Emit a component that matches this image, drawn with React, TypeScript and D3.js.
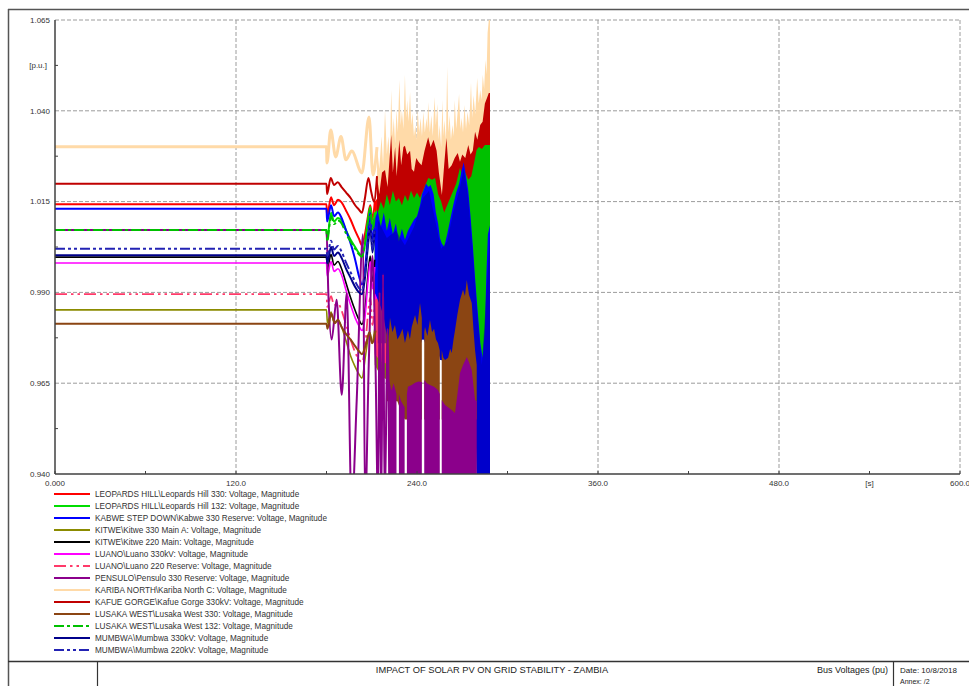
import React from 'react';
import * as d3 from 'd3';

// ---- Axis definitions ----
const X_TICKS = [0, 120, 240, 360, 480, 600];
const X_TICK_LABELS = ['0.000', '120.0', '240.0', '360.0', '480.0', '600.0'];
const X_MINOR = [60, 180, 300, 420, 540];
const Y_TICKS = [0.94, 0.965, 0.99, 1.015, 1.04, 1.065];
const Y_TICK_LABELS = ['0.940', '0.965', '0.990', '1.015', '1.040', '1.065'];
const Y_MINOR = [0.9525, 0.9775, 1.0025, 1.0275, 1.0525];
const X_UNIT = '[s]';
const X_UNIT_AT = 540;
const Y_UNIT = '[p.u.]';
const Y_UNIT_AT = 1.0525;

const TITLE = 'IMPACT OF SOLAR PV ON GRID STABILITY - ZAMBIA';
const SUBTITLE = 'Bus Voltages (pu)';
const DATE_TEXT = 'Date: 10/8/2018';
const ANNEX_TEXT = 'Annex:   /2';

type Pt = [number, number];
type BandPt = [number, number, number] | null; // [time, low, high]

// ---- Bus voltage traces [time s, voltage p.u.] (steady state + first swings) ----
const leopardsHill330: Pt[] = [[0, 1.0143], [180, 1.0143], [180.4, 1.011], [183, 1.0162], [185, 1.014], [187.6, 1.0155], [190, 1.0148], [193, 1.0125], [196, 1.01], [199, 1.007], [201.5, 1.0048], [203.5, 1.0030], [205.5, 1.006], [207.5, 1.011], [209, 1.014], [210.5, 1.01], [212, 1.015]];
const leopardsHill132: Pt[] = [[0, 1.0072], [180, 1.0072], [180.4, 1.0045], [183, 1.0119], [185, 1.0095], [187.6, 1.0105], [190, 1.0098], [193, 1.007], [196, 1.0045], [199, 1.0025], [201.5, 1.0008], [203.5, 1.0], [205.5, 1.003], [207.5, 1.01], [209, 1.0135], [210.5, 1.008], [212, 1.012]];
const kabwe330: Pt[] = [[0, 1.013], [180, 1.013], [180.4, 1.0095], [183, 1.014], [185, 1.011], [187.6, 1.012], [190, 1.0105], [193, 1.007], [196, 1.0035], [199, 0.999], [201.5, 0.9945], [203.5, 0.9922], [205.5, 0.996], [207.5, 1.006], [209, 1.012], [210.5, 1.004], [212, 1.01]];
const kitwe330: Pt[] = [[0, 0.9852], [180, 0.9852], [180.6, 0.9816], [183, 0.9846], [185, 0.9818], [187.6, 0.9822], [190, 0.9805], [193, 0.9766], [196, 0.9725], [199, 0.9695], [201.5, 0.9675], [203.5, 0.9664], [206, 0.973], [208.5, 0.979], [210, 0.976], [212, 0.98]];
const kitwe220: Pt[] = [[0, 0.9997], [180, 0.9997], [180.5, 0.9965], [183, 1.0005], [185, 0.9975], [187.6, 0.9985], [190, 0.9965], [193, 0.9925], [196, 0.9885], [199, 0.985], [201.5, 0.9825], [203.5, 0.9812], [205.5, 0.985], [207.5, 0.995], [209, 1.0], [210.5, 0.993], [212, 0.999]];
const luano330: Pt[] = [[0, 0.9981], [180, 0.9981], [180.5, 0.9945], [183, 0.9985], [185, 0.9958], [187.6, 0.9965], [190, 0.9948], [193, 0.9905], [196, 0.9865], [199, 0.983], [201.5, 0.9808], [203.5, 0.9795], [205.5, 0.983], [207.5, 0.993], [209, 0.9985], [210.5, 0.991], [212, 0.997]];
const luano220: Pt[] = [[0, 0.9895], [180, 0.9895], [180.5, 0.986], [183, 0.989], [185, 0.9865], [187.6, 0.987], [190, 0.985], [193, 0.981], [196, 0.977], [199, 0.9735], [201.5, 0.9715], [203.5, 0.9708], [205.5, 0.9745], [207.5, 0.984], [209, 0.9885], [210.5, 0.981], [212, 0.987]];
const pensulo330: Pt[] = [[0, 1.0072], [180, 1.0072], [181.2, 0.99], [183.4, 0.977], [186.7, 0.988], [190.1, 0.9618], [193.4, 0.9898], [196.7, 0.93], [200, 0.96], [204.2, 1.006], [205.6, 0.93], [208, 0.97], [210.5, 1.0], [212.5, 0.97], [214.2, 0.93], [215.2, 0.99], [216.3, 0.93], [217.5, 0.995], [218.6, 0.93], [220.5, 0.98], [221.7, 0.93]];
const karibaNorth: Pt[] = [[0, 1.0301], [180, 1.0301], [180.3, 1.0256], [182.8, 1.0347], [186.1, 1.0273], [189.6, 1.0329], [192.9, 1.0265], [196.7, 1.0289], [203.5, 1.0229], [208.2, 1.0383], [210.8, 1.0223], [213.5, 1.03]];
const kafueGorge: Pt[] = [[0, 1.0199], [180, 1.0199], [180.4, 1.0171], [182.8, 1.0215], [185, 1.0196], [187.4, 1.0203], [190, 1.019], [193, 1.0175], [196, 1.016], [199, 1.014], [201.5, 1.0128], [203.5, 1.0119], [205.5, 1.016], [207.8, 1.0215], [209.5, 1.018], [211.5, 1.015], [213.5, 1.022]];
const lusakaWest330: Pt[] = [[0, 0.9814], [180, 0.9814], [180.6, 0.98], [183.2, 0.9841], [185.5, 0.9815], [187.6, 0.9825], [190, 0.9805], [193, 0.9785], [196, 0.977], [199, 0.9752], [201.5, 0.9738], [203.5, 0.973], [206, 0.9755], [208.5, 0.979], [210.5, 0.976], [212.5, 0.9795]];
const lusakaWest132: Pt[] = [[0, 1.0072], [180, 1.0072], [180.4, 1.004], [183, 1.011], [185, 1.0088], [187.6, 1.0098], [190, 1.009], [193, 1.0062], [196, 1.004], [199, 1.002], [201.5, 1.0005], [203.5, 0.9998], [205.5, 1.0035], [207.5, 1.0095], [209, 1.0125], [210.5, 1.007], [212, 1.011]];
const mumbwa330: Pt[] = [[0, 1.0002], [180, 1.0002], [180.5, 0.998], [183, 1.0025], [185, 1.0], [187.6, 1.001], [190, 0.9995], [193, 0.9965], [196, 0.994], [199, 0.9915], [201.5, 0.99], [203.5, 0.9895], [205.5, 0.994], [207.5, 1.003], [209, 1.008], [210.5, 1.001], [212, 1.007]];
const mumbwa220: Pt[] = [[0, 1.002], [180, 1.002], [180.5, 1.0], [183, 1.0042], [185, 1.0018], [187.6, 1.0028], [190, 1.0012], [193, 0.9982], [196, 0.9955], [199, 0.993], [201.5, 0.9912], [203.5, 0.9905], [205.5, 0.995], [207.5, 1.004], [209, 1.009], [210.5, 1.002], [212, 1.008]];

// ---- Fast oscillation envelopes [time s, min p.u., max p.u.] ----
const leopardsHill330Band: BandPt[] = [[212, 1.005, 1.015], [216, 1.004, 1.017], [220, 1.003, 1.016], [226, 1.002, 1.018], [232, 1.002, 1.017], [241, 1.002, 1.018]];
const leopardsHill132Band: BandPt[] = [[212, 0.998, 1.012], [216, 0.996, 1.014], [222, 0.994, 1.015], [230, 0.992, 1.016], [241, 0.992, 1.017]];
const kitwe330Band: BandPt[] = [[212, 0.970, 0.980], [216, 0.967, 0.982], [220, 0.966, 0.983], [226, 0.968, 0.982], [232, 0.968, 0.980], [241, 0.970, 0.980]];
const kitwe220Band: BandPt[] = [[212, 0.983, 0.999], [216, 0.982, 1.0], [222, 0.980, 1.0], [232, 0.980, 0.998], [241, 0.980, 0.998]];
const luano330Band: BandPt[] = [[212, 0.980, 0.997], [216, 0.978, 0.998], [222, 0.977, 0.998], [232, 0.977, 0.996], [241, 0.978, 0.996]];
const luano220Band: BandPt[] = [[212, 0.973, 0.988], [216, 0.971, 0.989], [222, 0.970, 0.990], [232, 0.970, 0.988], [241, 0.972, 0.988]];
const mumbwa220Band: BandPt[] = [[212, 0.990, 1.008], [216, 0.988, 1.010], [222, 0.985, 1.010], [232, 0.982, 1.008], [241, 0.982, 1.010]];

const karibaNorthBand: BandPt[] = [
  [213.5, 1.014, 1.03], [215, 1.014, 1.024], [216.5, 1.014, 1.033], [217.5, 1.014, 1.025], [218.8, 1.014, 1.0402], [220, 1.014, 1.028],
  [221, 1.014, 1.033], [222, 1.014, 1.027], [222.9, 1.014, 1.0457], [223.8, 1.014, 1.033], [224.6, 1.014, 1.038], [225.5, 1.014, 1.031],
  [226.4, 1.014, 1.0402], [227.3, 1.014, 1.034], [228.3, 1.014, 1.0485], [229.2, 1.014, 1.036], [230, 1.014, 1.0402], [231, 1.014, 1.035],
  [232, 1.014, 1.0499], [232.8, 1.014, 1.038], [233.5, 1.014, 1.043], [234.4, 1.014, 1.037], [235.4, 1.014, 1.0452], [236.2, 1.014, 1.036],
  [237, 1.014, 1.0394], [238, 1.014, 1.033], [238.9, 1.014, 1.0361], [239.7, 1.014, 1.032], [240.5, 1.014, 1.0402], [241.4, 1.014, 1.034],
  [242.4, 1.014, 1.038], [243.3, 1.014, 1.033], [244.2, 1.014, 1.0397], [245.2, 1.014, 1.034], [246.3, 1.014, 1.038], [246.9, 1.014, 1.035],
  [247.4, 1.014, 1.0424], [248.5, 1.014, 1.034], [249.5, 1.014, 1.0388], [250.5, 1.014, 1.033], [251.6, 1.014, 1.0438], [252.5, 1.014, 1.036],
  [253.5, 1.014, 1.0419], [254.3, 1.014, 1.032], [255, 1.014, 1.0361], [256, 1.014, 1.03], [256.9, 1.014, 1.043], [257.5, 1.014, 1.033],
  [258.1, 1.014, 1.0375], [259.2, 1.014, 1.032], [260, 1.014, 1.0521], [260.8, 1.014, 1.034], [261.6, 1.014, 1.0388], [262.5, 1.014, 1.032],
  [263.5, 1.014, 1.0361], [264.3, 1.014, 1.033], [265, 1.014, 1.043], [266, 1.014, 1.035], [267, 1.014, 1.04], [267.9, 1.014, 1.0446],
  [268.8, 1.014, 1.035], [269.6, 1.014, 1.038], [270.5, 1.014, 1.034], [271.5, 1.014, 1.0416], [272.5, 1.014, 1.035], [273.5, 1.014, 1.0397],
  [274.6, 1.014, 1.036], [275.8, 1.014, 1.0477], [276.6, 1.014, 1.038], [277.5, 1.014, 1.0443], [278.6, 1.014, 1.039], [279.9, 1.014, 1.049],
  [280.9, 1.014, 1.042], [281.9, 1.014, 1.0457], [282.8, 1.014, 1.043], [283.6, 1.014, 1.0499], [284.5, 1.014, 1.046], [285.4, 1.014, 1.054],
  [286.1, 1.014, 1.05], [286.8, 1.014, 1.0614], [287.6, 1.014, 1.065], [288.4, 1.014, 1.065],
];

const kafueGorgeBand: BandPt[] = [
  [213.5, 1.004, 1.022], [215, 1.004, 1.017], [216.8, 1.004, 1.023], [218.8, 1.004, 1.0237], [220.5, 1.004, 1.019], [222.9, 1.004, 1.0334],
  [224, 1.004, 1.023], [225.5, 1.004, 1.03], [226.5, 1.004, 1.022], [228.3, 1.004, 1.032], [229.5, 1.004, 1.025], [231, 1.004, 1.03],
  [232, 1.004, 1.0304], [233.5, 1.004, 1.028], [235.4, 1.004, 1.029], [236.5, 1.004, 1.024], [238, 1.004, 1.0232], [239.5, 1.004, 1.027],
  [241, 1.004, 1.026], [243, 1.004, 1.025], [245, 1.004, 1.029], [247.4, 1.004, 1.0327], [249, 1.004, 1.03], [251, 1.004, 1.032],
  [253, 1.004, 1.029], [254.5, 1.004, 1.023], [256.5, 1.004, 1.0168], [258, 1.004, 1.025], [259.5, 1.004, 1.0325], [261, 1.004, 1.024],
  [263, 1.004, 1.025], [265, 1.004, 1.027], [267, 1.004, 1.0284], [268.5, 1.004, 1.026], [270, 1.004, 1.028], [272, 1.004, 1.027],
  [274, 1.004, 1.0306], [275.5, 1.004, 1.028], [277, 1.004, 1.029], [278.5, 1.004, 1.0342], [280, 1.004, 1.032], [281.9, 1.004, 1.0361],
  [283.5, 1.004, 1.037], [285, 1.004, 1.042], [286.4, 1.004, 1.0435], [287.6, 1.004, 1.0449], [288.4, 1.004, 1.0449],
];

const lusakaWest132Band: BandPt[] = [
  [212, 0.99, 1.011], [214, 0.99, 1.012], [216, 0.99, 1.015], [218, 0.99, 1.013], [220, 0.99, 1.017], [222, 0.99, 1.014],
  [224, 0.99, 1.018], [226, 0.99, 1.015], [228, 0.99, 1.016], [230, 0.99, 1.014], [232, 0.99, 1.0168], [234, 0.99, 1.015],
  [236, 0.99, 1.018], [238, 0.99, 1.016], [240, 0.99, 1.0175], [242, 0.99, 1.016], [245, 0.99, 1.019], [247.5, 0.99, 1.0215],
  [250, 0.99, 1.021], [252, 0.99, 1.0215], [254, 0.99, 1.017], [256, 0.99, 1.015], [258, 0.99, 1.012], [260, 0.99, 1.014],
  [262, 0.99, 1.016], [264, 0.99, 1.018], [266, 0.99, 1.02], [268.5, 0.99, 1.0243], [270, 0.99, 1.022], [272, 0.99, 1.023],
  [274, 0.99, 1.021], [276, 0.99, 1.022], [278, 0.985, 1.026], [279.5, 0.98, 1.0292], [281, 0.975, 1.03], [283, 0.97, 1.0295],
  [285, 0.972, 1.0306], [287, 0.98, 1.0306], [288.4, 0.99, 1.0306],
];

const kabwe330Band: BandPt[] = [
  [212, 0.99, 1.01], [214, 0.988, 1.0125], [216, 0.986, 1.008], [218, 0.983, 1.012], [220, 0.978, 1.007], [222, 0.975, 1.0105],
  [224, 0.975, 1.006], [226, 0.975, 1.009], [228, 0.975, 1.004], [230, 0.975, 1.0075], [232, 0.975, 1.0045], [234, 0.975, 1.007],
  [236, 0.975, 1.0085], [238, 0.975, 1.01], [240, 0.975, 1.011], [242, 0.975, 1.014], [243.3, 0.977, 1.017], [244.7, 0.977, 1.0185],
  [246, 0.975, 1.02], [247.5, 0.975, 1.019], [249, 0.975, 1.0196], [251, 0.975, 1.017], [252.5, 0.975, 1.012], [254, 0.974, 1.009],
  [255.2, 0.9714, 1.005], [256.4, 0.9714, 1.0035], [258, 0.97, 1.0025], [260, 0.97, 1.006], [262, 0.97, 1.01], [264, 0.97, 1.014],
  [266, 0.972, 1.0175], [268, 0.975, 1.02], [269.5, 0.975, 1.0235], [271, 0.975, 1.0258], [272.5, 0.975, 1.022], [274, 0.975, 1.018],
  [275.5, 0.975, 1.011], [277, 0.97, 1.003], [278.5, 0.96, 0.994], [280, 0.93, 0.986], [282, 0.93, 0.976], [283.5, 0.93, 0.972],
  [285, 0.93, 0.98], [286, 0.93, 0.995], [287, 0.93, 1.006], [288.4, 0.93, 1.0085],
];

const mumbwa330Band: BandPt[] = [
  [214, 0.976, 1.01], [220, 0.976, 1.005], [226, 0.975, 1.007], [232, 0.975, 1.003], [238, 0.976, 1.008], [244, 0.977, 1.016],
  [248, 0.976, 1.018], [252, 0.975, 1.01], [256, 0.9714, 1.002], [260, 0.97, 1.004], [264, 0.972, 1.012], [268, 0.976, 1.018],
  [271, 0.98, 1.024], [274, 0.98, 1.016], [277, 0.97, 1.001], [280, 0.93, 0.984], [283, 0.93, 0.97], [286, 0.93, 0.99], [288.4, 0.93, 1.006],
];

const lusakaWest330Band: BandPt[] = [
  [219.5, 0.96, 0.9796], [220.8, 0.96, 0.976], [222.1, 0.96, 0.983], [223.7, 0.96, 0.979], [225.4, 0.96, 0.981], [227, 0.96, 0.977],
  [228.7, 0.958, 0.9783], [230.4, 0.956, 0.98], [232, 0.955, 0.9761], [234, 0.955, 0.9796], [235.3, 0.955, 0.977], [236.5, 0.955, 0.9805],
  [238.7, 0.955, 0.9838], [240.3, 0.955, 0.981], [242, 0.955, 0.9871], [243.2, 0.955, 0.983],
  null,
  [244.8, 0.955, 0.979], [245.3, 0.955, 0.9805], [246.9, 0.955, 0.978], [248.6, 0.955, 0.9824], [250, 0.955, 0.979], [251.3, 0.955, 0.98],
  [252.6, 0.955, 0.977], [253.9, 0.955, 0.9761], [255.1, 0.955, 0.974],
  null,
  [256.4, 0.955, 0.9741], [257.5, 0.955, 0.972], [258.6, 0.955, 0.9714], [260.6, 0.955, 0.972], [262, 0.955, 0.9745], [263, 0.955, 0.9733],
  [264.2, 0.955, 0.977], [265.2, 0.955, 0.9796], [266.8, 0.955, 0.984], [268.5, 0.955, 0.9879], [270.5, 0.955, 0.9907], [271.8, 0.955, 0.989],
  [273, 0.955, 0.9934], [274.5, 0.955, 0.9893], [276.3, 0.955, 0.9871], [277.4, 0.955, 0.98], [278.5, 0.955, 0.9741], [279.6, 0.955, 0.97],
];

const pensulo330Band: BandPt[] = [
  [221.5, 0.93, 0.966], [223, 0.93, 0.963], [224.5, 0.93, 0.965], [226.4, 0.93, 0.962],
  null,
  [228, 0.93, 0.962], [229.5, 0.93, 0.96], [231.8, 0.93, 0.9584],
  null,
  [233.3, 0.93, 0.962], [234, 0.93, 0.964], [236.5, 0.93, 0.9645], [238.7, 0.93, 0.9651], [241, 0.93, 0.9655], [243.2, 0.93, 0.9653],
  null,
  [244.8, 0.93, 0.9659], [246.5, 0.93, 0.965], [248.6, 0.93, 0.9645], [251.3, 0.93, 0.964], [253.9, 0.93, 0.9631], [255.1, 0.93, 0.962],
  null,
  [256.4, 0.93, 0.9604], [258.6, 0.93, 0.959], [260.6, 0.93, 0.9584], [263, 0.93, 0.9576], [265.2, 0.93, 0.9568], [266.8, 0.93, 0.962],
  [268.5, 0.93, 0.9678], [270.5, 0.93, 0.97], [273, 0.93, 0.9722], [274.5, 0.93, 0.9708], [276.3, 0.93, 0.9686], [278.5, 0.93, 0.9604],
  [279.6, 0.93, 0.96],
];

interface Series {
  key: string;
  label: string;
  color: string;
  width: number;
  dash?: string;
  line: Pt[];
  band?: BandPt[];
  bandOpacity?: number;
}

const SERIES: Series[] = [
  { key: 'lh330', label: 'LEOPARDS HILL\\Leopards Hill 330: Voltage, Magnitude', color: '#ff0000', width: 2, line: leopardsHill330, band: leopardsHill330Band },
  { key: 'lh132', label: 'LEOPARDS HILL\\Leopards Hill 132: Voltage, Magnitude', color: '#00dd00', width: 2, line: leopardsHill132, band: leopardsHill132Band },
  { key: 'kabwe', label: 'KABWE STEP DOWN\\Kabwe 330 Reserve: Voltage, Magnitude', color: '#0000ff', width: 2, line: kabwe330, band: kabwe330Band },
  { key: 'kitwe330', label: 'KITWE\\Kitwe 330 Main A: Voltage, Magnitude', color: '#8b8b00', width: 1.6, line: kitwe330, band: kitwe330Band },
  { key: 'kitwe220', label: 'KITWE\\Kitwe 220 Main: Voltage, Magnitude', color: '#000000', width: 1.6, line: kitwe220, band: kitwe220Band },
  { key: 'luano330', label: 'LUANO\\Luano 330kV: Voltage, Magnitude', color: '#ff00ff', width: 1.6, line: luano330, band: luano330Band },
  { key: 'luano220', label: 'LUANO\\Luano 220 Reserve: Voltage, Magnitude', color: '#ff3a6a', width: 1.8, dash: '12,4,2.5,4,2.5,4', line: luano220, band: luano220Band },
  { key: 'pensulo', label: 'PENSULO\\Pensulo 330 Reserve: Voltage, Magnitude', color: '#8b008b', width: 2, line: pensulo330, band: pensulo330Band },
  { key: 'kariba', label: 'KARIBA NORTH\\Kariba North C: Voltage, Magnitude', color: '#ffdaa8', width: 3, line: karibaNorth, band: karibaNorthBand },
  { key: 'kafue', label: 'KAFUE GORGE\\Kafue Gorge 330kV: Voltage, Magnitude', color: '#c00000', width: 2, line: kafueGorge, band: kafueGorgeBand },
  { key: 'lw330', label: 'LUSAKA WEST\\Lusaka West 330: Voltage, Magnitude', color: '#8b4513', width: 2, line: lusakaWest330, band: lusakaWest330Band },
  { key: 'lw132', label: 'LUSAKA WEST\\Lusaka West 132: Voltage, Magnitude', color: '#00c000', width: 2, dash: '10,3,3,3', line: lusakaWest132, band: lusakaWest132Band },
  { key: 'mumbwa330', label: 'MUMBWA\\Mumbwa 330kV: Voltage, Magnitude', color: '#00008b', width: 2, line: mumbwa330, band: mumbwa330Band, bandOpacity: 0.45 },
  { key: 'mumbwa220', label: 'MUMBWA\\Mumbwa 220kV: Voltage, Magnitude', color: '#2323b4', width: 2, dash: '10,3,3,3,3,3', line: mumbwa220, band: mumbwa220Band },
];

// Stacking of the oscillation envelopes, back to front
const BAND_ORDER = ['lh330', 'lh132', 'kitwe330', 'kitwe220', 'luano330', 'luano220', 'mumbwa220', 'kariba', 'kafue', 'lw132', 'kabwe', 'mumbwa330', 'lw330', 'pensulo'];

const W = 969;
const H = 686;
const PLOT = { left: 55, right: 960, top: 20, bottom: 474 };
const FONT = 'Liberation Sans, Arial, Helvetica, sans-serif';

export default function App() {
  const x = d3.scaleLinear().domain([0, 600]).range([PLOT.left, PLOT.right]);
  const y = d3.scaleLinear().domain([0.94, 1.065]).range([PLOT.bottom, PLOT.top]);

  const line = d3.line<Pt>().x(d => x(d[0])).y(d => y(d[1])).curve(d3.curveMonotoneX);
  const area = d3
    .area<BandPt>()
    .defined(d => d !== null)
    .x(d => x((d as [number, number, number])[0]))
    .y0(d => y((d as [number, number, number])[1]))
    .y1(d => y((d as [number, number, number])[2]))
    .curve(d3.curveLinear);

  const byKey = new Map(SERIES.map(s => [s.key, s]));
  const gridColor = '#9c9c9c';
  const axisColor = '#404040';

  return (
    <svg width={W} height={H} style={{ position: 'absolute', left: 0, top: 0, display: 'block', background: '#fff' }} fontFamily={FONT}>
      <defs>
        <clipPath id="plot-clip">
          <rect x={PLOT.left} y={PLOT.top} width={PLOT.right - PLOT.left} height={PLOT.bottom - PLOT.top} />
        </clipPath>
      </defs>

      {/* page frame */}
      <line x1={8} x2={W} y1={9.5} y2={9.5} stroke="#555" strokeWidth={1.5} />
      <line x1={8.5} x2={8.5} y1={9} y2={H} stroke="#555" strokeWidth={1.5} />

      {/* grid */}
      <g stroke={gridColor} strokeWidth={1} strokeDasharray="4,2">
        {X_TICKS.filter(t => t > 0).map(t => (
          <line key={'gx' + t} x1={x(t)} x2={x(t)} y1={PLOT.top} y2={PLOT.bottom} />
        ))}
        {Y_TICKS.filter(v => v > 0.94).map(v => (
          <line key={'gy' + v} x1={PLOT.left} x2={PLOT.right} y1={y(v)} y2={y(v)} />
        ))}
      </g>

      {/* traces */}
      <g clipPath="url(#plot-clip)">
        {BAND_ORDER.map(k => {
          const s = byKey.get(k)!;
          return s.band ? (
            <path key={'band-' + k} d={area(s.band) || ''} fill={s.color} fillOpacity={s.bandOpacity ?? 1} stroke="none" />
          ) : null;
        })}
        {SERIES.map(s => (
          <path
            key={'line-' + s.key}
            d={line(s.line) || ''}
            fill="none"
            stroke={s.color}
            strokeWidth={s.width}
            strokeDasharray={s.dash}
            strokeLinejoin="round"
          />
        ))}
      </g>

      {/* axes */}
      <line x1={PLOT.left} x2={PLOT.left} y1={PLOT.top} y2={PLOT.bottom} stroke={axisColor} strokeWidth={1.5} />
      <line x1={PLOT.left} x2={PLOT.right} y1={PLOT.bottom} y2={PLOT.bottom} stroke={axisColor} strokeWidth={1.5} />
      <g stroke={axisColor} strokeWidth={1}>
        {X_MINOR.map(t => (
          <line key={'mx' + t} x1={x(t)} x2={x(t)} y1={PLOT.bottom} y2={PLOT.bottom - 3} />
        ))}
        {X_TICKS.map(t => (
          <line key={'tx' + t} x1={x(t)} x2={x(t)} y1={PLOT.bottom} y2={PLOT.bottom - 3} />
        ))}
        {Y_MINOR.map(v => (
          <line key={'my' + v} x1={PLOT.left} x2={PLOT.left + 3} y1={y(v)} y2={y(v)} />
        ))}
      </g>

      {/* tick labels */}
      <g fontSize={8} fill="#333">
        {Y_TICKS.map((v, i) => (
          <text key={'ly' + v} x={50} y={y(v)} dy="0.35em" textAnchor="end">
            {Y_TICK_LABELS[i]}
          </text>
        ))}
        <text x={47} y={y(Y_UNIT_AT)} dy="0.35em" textAnchor="end">{Y_UNIT}</text>
        {X_TICKS.map((t, i) => (
          <text key={'lx' + t} x={x(t)} y={486} textAnchor="middle">
            {X_TICK_LABELS[i]}
          </text>
        ))}
        <text x={x(X_UNIT_AT)} y={486} textAnchor="middle">{X_UNIT}</text>
      </g>

      {/* legend */}
      <g fontSize={8.2} fill="#333">
        {SERIES.map((s, i) => {
          const ly = 494 + i * 12;
          return (
            <g key={'lg-' + s.key}>
              <line x1={54} x2={90} y1={ly} y2={ly} stroke={s.color} strokeWidth={2} strokeDasharray={s.dash} />
              <text x={95} y={ly} dy="0.35em">{s.label}</text>
            </g>
          );
        })}
      </g>

      {/* title block */}
      <line x1={8} x2={W} y1={661.5} y2={661.5} stroke="#333" strokeWidth={1.5} />
      <line x1={97.5} x2={97.5} y1={661} y2={H} stroke="#333" strokeWidth={1.2} />
      <line x1={893.5} x2={893.5} y1={661} y2={H} stroke="#333" strokeWidth={1.2} />
      <text x={492} y={673} fontSize={9.3} fill="#222" textAnchor="middle">{TITLE}</text>
      <text x={888} y={673} fontSize={9} fill="#222" textAnchor="end">{SUBTITLE}</text>
      <text x={900} y={673} fontSize={8} fill="#222">{DATE_TEXT}</text>
      <text x={900} y={684} fontSize={7} fill="#222">{ANNEX_TEXT}</text>
    </svg>
  );
}
